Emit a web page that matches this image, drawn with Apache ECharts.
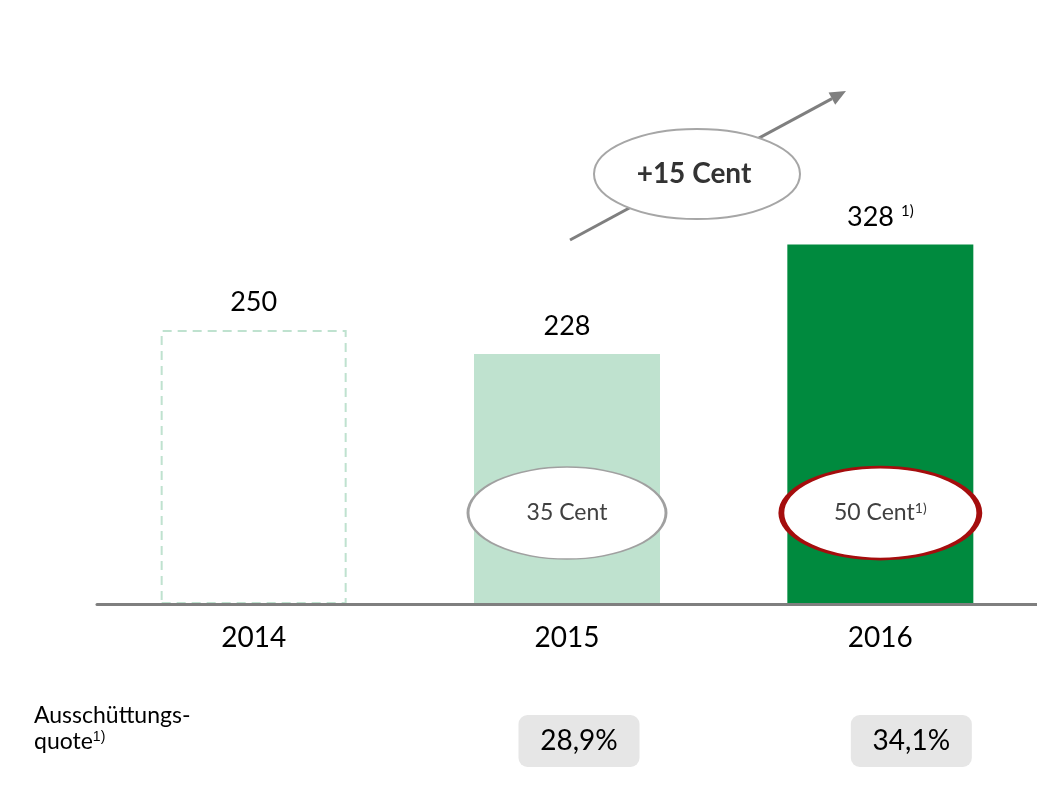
<!DOCTYPE html>
<html>
<head>
<meta charset="utf-8">
<script src="https://cdn.jsdelivr.net/npm/echarts@6/dist/echarts.min.js"></script>
<style>
  html, body { margin: 0; padding: 0; background: #fff; }
  #chart { width: 1037px; height: 801px; }
</style>
</head>
<body>
<div id="chart"></div>
<script>
const years = ['2014', '2015', '2016']
const values = [250, 228, 328]
const valueLabels = ['250', '228', '328 {sup|1)}']
const dividends = ['', '35 Cent', '50 Cent{sup|1)}']
const payoutRatios = ['', '28,9%', '34,1%']
const ellipseLevel = 83 // where the cent ellipses sit, in axis units

const FONT = 'Lato, "Open Sans", sans-serif'

const chart = echarts.init(document.getElementById('chart'), null, { renderer: 'canvas' })

const barStyles = [
  { color: '#ffffff', borderColor: '#bfe2cf', borderWidth: 2, borderType: [9, 6] },
  { color: '#bfe2cf' },
  { color: '#008a3e' }
]

const option = {
  backgroundColor: '#fff',
  animation: false,
  textStyle: { fontFamily: FONT },
  grid: { left: 97, right: 0, top: 56, bottom: 197 },
  xAxis: [{
    type: 'category',
    data: years,
    z: 5,
    axisLine: { lineStyle: { color: '#7f7f7f', width: 3 } },
    axisTick: { show: false },
    axisLabel: { fontSize: 28, color: '#000', margin: 20, fontFamily: FONT }
  }, {
    type: 'category',
    data: years,
    position: 'bottom',
    axisLine: { show: false },
    axisTick: { show: false },
    axisLabel: {
      interval: 0,
      margin: 111,
      formatter: (v, i) => payoutRatios[i] ? `{sp${i}|}{box|${payoutRatios[i]}}` : '',
      rich: {
        sp1: { width: 24 },
        sp2: { width: 62 },
        box: {
          fontFamily: FONT, fontSize: 28, color: '#000',
          backgroundColor: '#e6e6e6', borderRadius: 9,
          width: 121, height: 52, lineHeight: 52, align: 'center'
        }
      }
    }
  }],
  yAxis: { type: 'value', min: 0, max: 500, show: false },
  series: [{
    type: 'bar',
    barWidth: 186,
    z: 2,
    data: values.map((v, i) => ({ value: v, itemStyle: barStyles[i] })),
    label: {
      show: true,
      position: 'top',
      distance: 14,
      fontSize: 27,
      color: '#000',
      fontFamily: FONT,
      formatter: p => valueLabels[p.dataIndex],
      rich: {
        sup: { fontSize: 15, verticalAlign: 'top', color: '#000', padding: [0, 0, 12, 0] }
      }
    },
    markPoint: {
      symbol: 'circle',
      symbolSize: [198, 92],
      data: [
        {
          coord: ['2015', ellipseLevel],
          itemStyle: { color: '#fff', borderColor: '#a0a0a0', borderWidth: 2 },
          label: { formatter: dividends[1] }
        },
        {
          coord: ['2016', ellipseLevel],
          itemStyle: { color: '#fff', borderColor: '#a50d0d', borderWidth: 4 },
          label: { formatter: dividends[2] }
        }
      ],
      label: {
        show: true,
        position: 'inside',
        fontSize: 23,
        color: '#404040',
        fontFamily: FONT,
        rich: {
          sup: { fontSize: 14, color: '#404040', padding: [0, 0, 10, 0] }
        }
      }
    }
  }],
  graphic: [
    {
      type: 'line',
      shape: { x1: 570, y1: 240, x2: 832, y2: 98.6 },
      style: { stroke: '#7f7f7f', lineWidth: 3 },
      z: 10
    },
    {
      type: 'polygon',
      shape: { points: [[846, 91], [835.2, 104.8], [828.6, 92.4]] },
      style: { fill: '#7f7f7f' },
      z: 10
    },
    {
      type: 'ellipse',
      shape: { cx: 697, cy: 174, rx: 103, ry: 45 },
      style: { fill: '#fff', stroke: '#a6a6a6', lineWidth: 2 },
      z: 11
    },
    {
      type: 'text',
      x: 694, y: 174,
      z: 12,
      style: {
        text: '+15 Cent', fontSize: 28, fontWeight: 'bold', fill: '#333',
        fontFamily: FONT, align: 'center', verticalAlign: 'middle'
      }
    },
    {
      type: 'text',
      left: 34, top: 703,
      z: 12,
      style: {
        text: 'Ausschüttungs-\nquote{sup|1)}',
        fontSize: 23, lineHeight: 26, fill: '#000', fontFamily: FONT,
        rich: {
          sup: { fontSize: 14, fill: '#000', padding: [0, 0, 9, 0] }
        }
      }
    }
  ]
}

chart.setOption(option)
window.addEventListener('resize', () => chart.resize())
</script>
</body>
</html>
